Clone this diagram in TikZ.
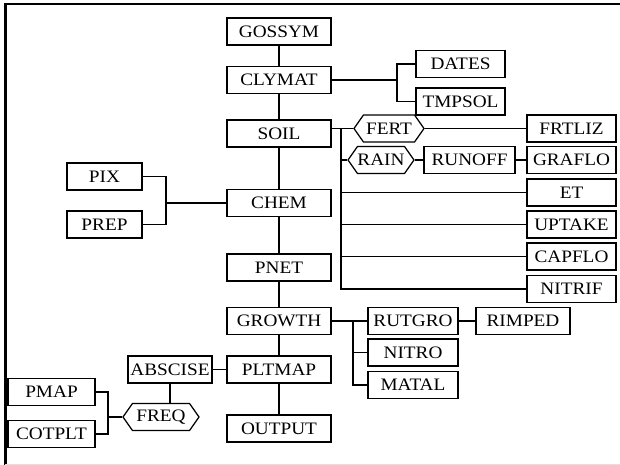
\documentclass[tikz,border=0pt]{standalone}
\usepackage{fontspec}
\setmainfont{Liberation Serif}[FakeStretch=1.1]
\usetikzlibrary{shapes.symbols}

\begin{document}
\begin{tikzpicture}[
x=1pt, y=-1pt,
line width=1.25pt,
every node/.style={
font=\fontsize{17.5}{20}\selectfont,
inner sep=0pt
},
blk/.style={
draw,
minimum width=#1,
minimum height=27pt
},
blk/.default=104pt,
hexa/.style={
draw,
signal,
signal to=east and west,
signal pointer angle=110,
minimum width=#1,
minimum height=27pt
}
]
\useasboundingbox (0,0) rectangle (620,465);
\draw[line width=2.6pt] (620,4) -- (5.5,4) -- (5.5,465);
\draw[line width=1pt, black!12] (5,464) -- (620,464);

% main column
\node[blk] (GOS) at (279,31.5) {GOSSYM};
\node[blk] (CLY) at (279,80) {CLYMAT};
\node[blk] (SOIL) at (279,133.5) {SOIL};
\node[blk] (CHEM) at (279,203) {CHEM};
\node[blk] (PNET) at (279,267.5) {PNET};
\node[blk] (GRO) at (279,321) {GROWTH};
\node[blk] (PLT) at (279,369.5) {PLTMAP};
\node[blk] (OUT) at (279,428.5) {OUTPUT};

\node[blk=75pt] (PIX) at (104.5,176.5) {PIX};
\node[blk=75pt] (PREP) at (104.5,224.5) {PREP};

\node[blk=89pt] (DATES) at (460.5,64) {DATES};
\node[blk=89pt] (TMP) at (460.5,101.5) {TMPSOL};

\node[hexa=70pt] (FERT) at (389,128.5) {FERT};
\node[hexa=64pt] (RAIN) at (381,160) {RAIN};
\node[blk=91pt] (RUN) at (469.5,160) {RUNOFF};

\node[blk=89pt] (FRT) at (571.5,128.5) {FRTLIZ};
\node[blk=89pt] (GRA) at (571.5,160) {GRAFLO};
\node[blk=89pt] (ET) at (571.5,192.5) {ET};
\node[blk=89pt] (UPT) at (571.5,224.5) {UPTAKE};
\node[blk=89pt] (CAP) at (571.5,256.5) {CAPFLO};
\node[blk=89pt] (NIF) at (571.5,289) {NITRIF};

\node[blk=90pt] (RUT) at (413,321) {RUTGRO};
\node[blk=90pt] (NIT) at (413,352.5) {NITRO};
\node[blk=90pt] (MAT) at (413,385) {MATAL};
\node[blk=94pt] (RIM) at (523,321) {RIMPED};

\node[blk=84pt] (ABS) at (170,369.5) {ABSCISE};
\node[hexa=76pt] (FREQ) at (161,417) {FREQ};
\node[blk=87pt] (PMAP) at (51.5,392) {PMAP};
\node[blk=87pt] (COT) at (51.5,434) {COTPLT};

% junction points
\coordinate (cb) at (397,80);
\coordinate (pb) at (166,203);
\coordinate (sb) at (341,128.5);
\coordinate (gb) at (353,321);
\coordinate (fb) at (108,417);

\draw (GOS) -- (CLY);
\draw (CLY) -- (SOIL);
\draw (SOIL) -- (CHEM);
\draw (CHEM) -- (PNET);
\draw (PNET) -- (GRO);
\draw (GRO) -- (PLT);
\draw (PLT) -- (OUT);

\draw (CLY.east) -- (cb);
\draw (DATES.west) -| (cb) |- (TMP.west);

\draw (PIX.east) -| (pb) |- (PREP.east);
\draw (pb) -- (CHEM.west);

\draw (FERT.west) -- (FERT.west -| SOIL.east);
\draw (sb) |- (NIF.west);
\draw (RAIN.west) -- (RAIN.west -| sb);
\draw (ET.west) -- (ET.west -| sb);
\draw (UPT.west) -- (UPT.west -| sb);
\draw (CAP.west) -- (CAP.west -| sb);
\draw (FERT.east) -- (FRT.west);
\draw (RAIN.east) -- (RUN.west);
\draw (RUN.east) -- (GRA.west);

\draw (GRO.east) -- (gb);
\draw (RUT.west) -| (gb) |- (MAT.west);
\draw (NIT.west) -- (NIT.west -| gb);
\draw (RUT.east) -- (RIM.west);

\draw (PLT.west) -- (ABS.east);
\draw (ABS.south) -- (ABS.south |- FREQ.north);
\draw (FREQ.west) -- (fb);
\draw (PMAP.east) -| (fb) |- (COT.east);

\end{tikzpicture}
\end{document}
